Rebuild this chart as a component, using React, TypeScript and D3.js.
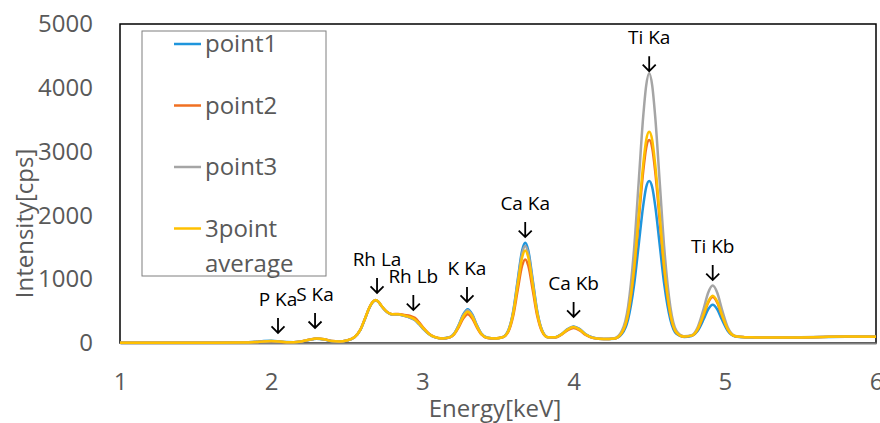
import React, { useEffect, useRef } from 'react';
import * as d3 from 'd3';

// energy axis samples [keV]
const energy = [
  1.0, 1.3, 1.6, 1.8, 1.9, 1.95, 2.0, 2.05, 2.1, 2.15,
  2.2, 2.25, 2.3, 2.35, 2.4, 2.45, 2.5, 2.55, 2.59, 2.62,
  2.65, 2.67, 2.69, 2.71, 2.73, 2.76, 2.8, 2.84, 2.88, 2.92,
  2.95, 2.98, 3.01, 3.04, 3.08, 3.13, 3.18, 3.21, 3.24, 3.27,
  3.3, 3.33, 3.36, 3.39, 3.43, 3.48, 3.53, 3.57, 3.6, 3.63,
  3.66, 3.68, 3.7, 3.73, 3.76, 3.79, 3.83, 3.88, 3.92, 3.96,
  4.0, 4.04, 4.08, 4.13, 4.2, 4.27, 4.32, 4.36, 4.4, 4.43,
  4.46, 4.48, 4.5, 4.52, 4.54, 4.57, 4.6, 4.64, 4.68, 4.73,
  4.78, 4.82, 4.86, 4.89, 4.92, 4.95, 4.98, 5.02, 5.07, 5.13,
  5.2, 5.35, 5.5, 5.65, 5.8, 6.0,
];

const point1 = [
  3, 3, 4, 6, 18, 30, 35, 27, 14, 12,
  24, 48, 68, 56, 29, 24, 38, 88, 205, 375,
  555, 635, 670, 640, 575, 495, 445, 445, 425, 395,
  360, 290, 210, 145, 92, 72, 90, 148, 282, 447,
  530, 447, 282, 148, 82, 72, 92, 208, 491, 982,
  1455, 1570, 1455, 982, 491, 208, 92, 92, 140, 218,
  260, 218, 137, 82, 62, 68, 144, 366, 910, 1527,
  2145, 2441, 2540, 2441, 2145, 1527, 910, 366, 144, 95,
  110, 187, 371, 529, 600, 529, 371, 187, 102, 90,
  87, 84, 87, 94, 99, 97,
];

const point2 = [
  3, 3, 4, 6, 14, 23, 28, 22, 12, 12,
  25, 50, 72, 60, 31, 25, 40, 90, 210, 380,
  560, 640, 672, 645, 580, 500, 452, 455, 440, 425,
  395, 320, 230, 155, 96, 72, 87, 135, 245, 382,
  450, 382, 245, 135, 80, 72, 89, 185, 418, 825,
  1215, 1310, 1215, 825, 418, 185, 89, 88, 131, 198,
  235, 198, 128, 78, 62, 70, 163, 443, 1127, 1905,
  2682, 3056, 3180, 3056, 2682, 1905, 1127, 443, 163, 100,
  115, 210, 437, 632, 720, 632, 437, 210, 105, 92,
  88, 85, 88, 95, 100, 98,
];

const point3 = [
  3, 3, 4, 6, 15, 24, 29, 23, 13, 12,
  25, 50, 70, 58, 30, 25, 40, 90, 210, 378,
  558, 640, 675, 645, 578, 498, 448, 448, 425, 395,
  360, 290, 212, 146, 93, 72, 90, 146, 275, 435,
  515, 435, 275, 146, 82, 72, 91, 204, 477, 952,
  1409, 1520, 1409, 952, 477, 204, 91, 91, 138, 214,
  255, 214, 136, 81, 62, 75, 194, 566, 1474, 2507,
  3539, 4035, 4230, 4035, 3539, 2507, 1474, 566, 194, 105,
  122, 244, 536, 787, 900, 787, 536, 244, 110, 92,
  88, 86, 89, 96, 101, 99,
];

const average = [
  3, 3, 4, 6, 15, 25, 30, 24, 13, 12,
  25, 50, 70, 58, 30, 25, 40, 90, 210, 380,
  560, 640, 675, 645, 580, 500, 450, 450, 430, 405,
  370, 300, 220, 150, 95, 72, 88, 141, 263, 414,
  490, 414, 263, 141, 81, 72, 90, 197, 457, 910,
  1344, 1450, 1344, 910, 457, 197, 90, 90, 136, 210,
  250, 210, 134, 80, 62, 70, 167, 459, 1172, 1982,
  2792, 3180, 3310, 3180, 2792, 1982, 1172, 459, 167, 100,
  115, 214, 448, 649, 740, 649, 448, 214, 106, 92,
  88, 85, 88, 95, 100, 98,
];

const seriesNames = ['point1', 'point2', 'point3', '3point average'];
const seriesValues = [point1, point2, point3, average];
const seriesColors = ['#1f95dc', '#f07022', '#a5a5a5', '#ffc000'];

const xTicks = [1, 2, 3, 4, 5, 6];
const yTicks = [0, 1000, 2000, 3000, 4000, 5000];

// peak annotations: label, energy, intensity at arrow tip
const peakLabels = ['P Ka', 'S Ka', 'Rh La', 'Rh Lb', 'K Ka', 'Ca Ka', 'Ca Kb', 'Ti Ka', 'Ti Kb'];
const peakEnergy = [2.045, 2.29, 2.7, 2.94, 3.295, 3.68, 4.0, 4.5, 4.92];
const peakTip = [157, 235, 784, 517, 643, 1661, 408, 4260, 987];

const W = 880;
const H = 423;
const margin = { top: 24, right: 4, bottom: 80, left: 120 };
const FONT = '"Open Sans", sans-serif';

export default function App() {
  const ref = useRef<SVGSVGElement>(null);

  useEffect(() => {
    const svg = d3.select(ref.current);
    svg.selectAll('*').remove();

    const x = d3.scaleLinear().domain([1, 6]).range([margin.left, W - margin.right]);
    const y = d3.scaleLinear().domain([0, 5000]).range([H - margin.bottom, margin.top]);

    // plot area frame
    svg.append('rect')
      .attr('x', x(1)).attr('y', y(5000))
      .attr('width', x(6) - x(1)).attr('height', y(0) - y(5000))
      .attr('fill', 'none').attr('stroke', '#000').attr('stroke-width', 1.5);

    const xAxis = svg.append('g')
      .attr('transform', `translate(0,${y(0)})`)
      .call(d3.axisBottom(x).tickValues(xTicks).tickSize(0).tickPadding(30).tickFormat(d3.format('d')));
    xAxis.select('.domain').attr('stroke', '#808080').attr('stroke-width', 2);
    xAxis.selectAll('text').attr('font-family', FONT).attr('font-size', 24).attr('fill', '#595959');

    const yAxis = svg.append('g')
      .attr('transform', `translate(${x(1)},0)`)
      .call(d3.axisLeft(y).tickValues(yTicks).tickSize(0).tickPadding(27).tickFormat(d3.format('d')));
    yAxis.select('.domain').remove();
    yAxis.selectAll('text').attr('font-family', FONT).attr('font-size', 24).attr('fill', '#595959');

    svg.append('text')
      .attr('x', 495).attr('y', 417)
      .attr('text-anchor', 'middle')
      .attr('font-family', FONT).attr('font-size', 24).attr('fill', '#595959')
      .text('Energy[keV]');

    svg.append('text')
      .attr('transform', `translate(33,${(y(0) + y(5000)) / 2 + 40}) rotate(-90)`)
      .attr('text-anchor', 'middle')
      .attr('font-family', FONT).attr('font-size', 24).attr('fill', '#595959')
      .text('Intensity[cps]');

    // spectra
    const line = d3.line<number>()
      .x((_, i) => x(energy[i]))
      .y(d => y(d))
      .curve(d3.curveMonotoneX);

    seriesValues.forEach((vals, i) => {
      svg.append('path')
        .datum(vals)
        .attr('d', line)
        .attr('fill', 'none')
        .attr('stroke', seriesColors[i])
        .attr('stroke-width', 2.5)
        .attr('stroke-linejoin', 'round');
    });

    // peak labels with arrows
    peakLabels.forEach((label, i) => {
      const px = x(peakEnergy[i]);
      const tip = y(peakTip[i]);
      const g = svg.append('g');
      g.append('path')
        .attr('d', `M${px},${tip - 15}V${tip}M${px - 6.5},${tip - 6.5}L${px},${tip}L${px + 6.5},${tip - 6.5}`)
        .attr('fill', 'none').attr('stroke', '#000').attr('stroke-width', 1.8);
      g.append('text')
        .attr('x', px).attr('y', tip - 27)
        .attr('text-anchor', 'middle')
        .attr('font-family', FONT).attr('font-size', 19).attr('fill', '#000')
        .text(label);
    });

    // legend
    const legend = svg.append('g');
    legend.append('rect')
      .attr('x', 142).attr('y', 31).attr('width', 184).attr('height', 245)
      .attr('fill', '#fff').attr('stroke', '#7f7f7f').attr('stroke-width', 1);
    seriesNames.forEach((name, i) => {
      const ly = 44 + i * 61.5;
      legend.append('line')
        .attr('x1', 174).attr('x2', 201).attr('y1', ly).attr('y2', ly)
        .attr('stroke', seriesColors[i]).attr('stroke-width', 2.5);
      const t = legend.append('text')
        .attr('x', 205).attr('y', ly + 8)
        .attr('font-family', FONT).attr('font-size', 24).attr('fill', '#595959');
      name.split(' ').forEach((part, j) => {
        t.append('tspan').attr('x', 205).attr('dy', j === 0 ? 0 : 35).text(part);
      });
    });
  }, []);

  return (
    <svg ref={ref} width={W} height={H}
      style={{ position: 'absolute', left: 0, top: 0, background: '#fff' }} />
  );
}
